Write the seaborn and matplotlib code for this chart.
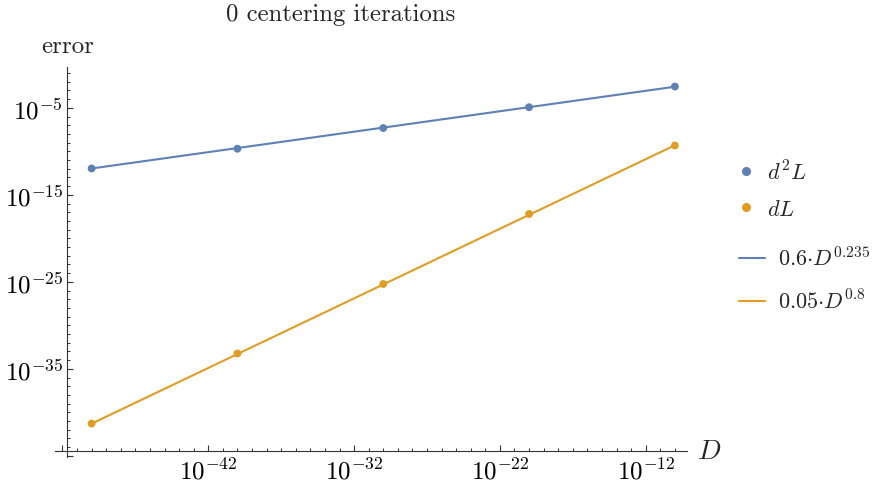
import numpy as np
import pandas as pd
import matplotlib
matplotlib.use("Agg")
import matplotlib.pyplot as plt
import seaborn as sns
from matplotlib.ticker import FixedLocator, FuncFormatter
from matplotlib.lines import Line2D

# data (exponents)
D_EXP = [-50, -40, -30, -20, -10]
D2L_EXP = [-11.97, -9.70, -7.32, -4.93, -2.55]
DL_EXP = [-41.29, -33.24, -25.25, -17.20, -9.33]
FIT_D2L = (0.6, 0.235)
FIT_DL = (0.05, 0.8)

X_MAJOR = [-52, -42, -32, -22, -12]
Y_MAJOR = [-45, -35, -25, -15, -5]
HIDDEN = {-52, -45}

BLUE = "#5E81B5"
ORANGE = "#E19C24"
AXCOL = "#333333"

df = pd.DataFrame({
    "D": 10.0 ** np.array(D_EXP, dtype=float),
    "d2L": 10.0 ** np.array(D2L_EXP),
    "dL": 10.0 ** np.array(DL_EXP),
})
df["fit_d2L"] = FIT_D2L[0] * df["D"] ** FIT_D2L[1]
df["fit_dL"] = FIT_DL[0] * df["D"] ** FIT_DL[1]

sns.set_style("ticks")
plt.rcParams.update({
    "font.family": "cmr10",
    "mathtext.fontset": "cm",
    "axes.unicode_minus": False,
    "axes.formatter.use_mathtext": True,
})

fig = plt.figure(figsize=(8.84, 4.89), dpi=100)
ax = fig.add_axes([55 / 884, 1 - 457.7 / 489, 632.3 / 884, 389.4 / 489])
ax.set_xscale("log")
ax.set_yscale("log")

sns.lineplot(data=df, x="D", y="fit_d2L", ax=ax, color=BLUE, lw=1.5)
sns.lineplot(data=df, x="D", y="fit_dL", ax=ax, color=ORANGE, lw=1.5)
sns.scatterplot(data=df, x="D", y="d2L", ax=ax, color=BLUE, s=32, edgecolor="none", zorder=3)
sns.scatterplot(data=df, x="D", y="dL", ax=ax, color=ORANGE, s=32, edgecolor="none", zorder=3)

ax.set_xlim(10 ** -52.51, 10 ** -9.15)
ax.set_ylim(10 ** -45.1, 10 ** -0.34)
ax.set_xlabel("")
ax.set_ylabel("")

# Mathematica-like crossing axes
ax.spines["left"].set_position(("data", 10 ** -51.67))
ax.spines["bottom"].set_position(("data", 10 ** -44.4))
ax.spines["top"].set_visible(False)
ax.spines["right"].set_visible(False)
for s in ("left", "bottom"):
    ax.spines[s].set_color(AXCOL)
    ax.spines[s].set_linewidth(0.8)


def fmt(v, pos):
    e = int(round(np.log10(v)))
    if e in HIDDEN:
        return ""
    return r"$10^{%d}$" % e


ax.xaxis.set_major_locator(FixedLocator(10.0 ** np.array(X_MAJOR, dtype=float)))
ax.yaxis.set_major_locator(FixedLocator(10.0 ** np.array(Y_MAJOR, dtype=float)))
ax.xaxis.set_minor_locator(FixedLocator([10.0 ** e for e in range(-53, -9) if e not in X_MAJOR]))
ax.yaxis.set_minor_locator(FixedLocator([10.0 ** e for e in range(-45, 0) if e not in Y_MAJOR]))
ax.xaxis.set_major_formatter(FuncFormatter(fmt))
ax.yaxis.set_major_formatter(FuncFormatter(fmt))
ax.xaxis.set_minor_formatter(FuncFormatter(lambda v, p: ""))
ax.yaxis.set_minor_formatter(FuncFormatter(lambda v, p: ""))
ax.tick_params(which="major", direction="in", length=4.3, width=0.8, color=AXCOL,
               labelcolor="black", labelsize=18)
ax.tick_params(which="minor", direction="in", length=2.5, width=0.7, color=AXCOL)
ax.tick_params(axis="x", which="major", pad=5)
ax.tick_params(axis="y", which="major", pad=3)

ax.text(10 ** -51.67, 1.027, "error", transform=ax.get_xaxis_transform(),
        ha="center", va="bottom", fontsize=18)
ax.text(1.015, 10 ** -44.4, r"$D$", transform=ax.get_yaxis_transform(),
        ha="left", va="center", fontsize=20)

fig.text(341 / 884, 1 - 14.5 / 489, "0 centering iterations", ha="center", va="center",
         fontsize=17.8)

pt_handles = [
    Line2D([], [], marker="o", ls="none", color=BLUE, markersize=5.5, label=r"$d^2L$"),
    Line2D([], [], marker="o", ls="none", color=ORANGE, markersize=5.5, label=r"$dL$"),
]
ln_handles = [
    Line2D([], [], color=BLUE, lw=1.5, label=r"$0.6{\cdot}D^{0.235}$"),
    Line2D([], [], color=ORANGE, lw=1.5, label=r"$0.05{\cdot}D^{0.8}$"),
]
leg1 = ax.legend(handles=pt_handles, loc="center left", bbox_to_anchor=(739.7 / 884, 1 - 190 / 489),
                 bbox_transform=fig.transFigure, frameon=False, fontsize=16, borderpad=0,
                 borderaxespad=0, handlelength=0.6, handletextpad=0.65, labelspacing=0.7)
ax.add_artist(leg1)
ax.legend(handles=ln_handles, loc="center left", bbox_to_anchor=(739 / 884, 1 - 280 / 489),
          bbox_transform=fig.transFigure, frameon=False, fontsize=16, borderpad=0,
          borderaxespad=0, handlelength=1.19, handletextpad=0.58, labelspacing=0.85)

fig.savefig("out.png", dpi=100)
